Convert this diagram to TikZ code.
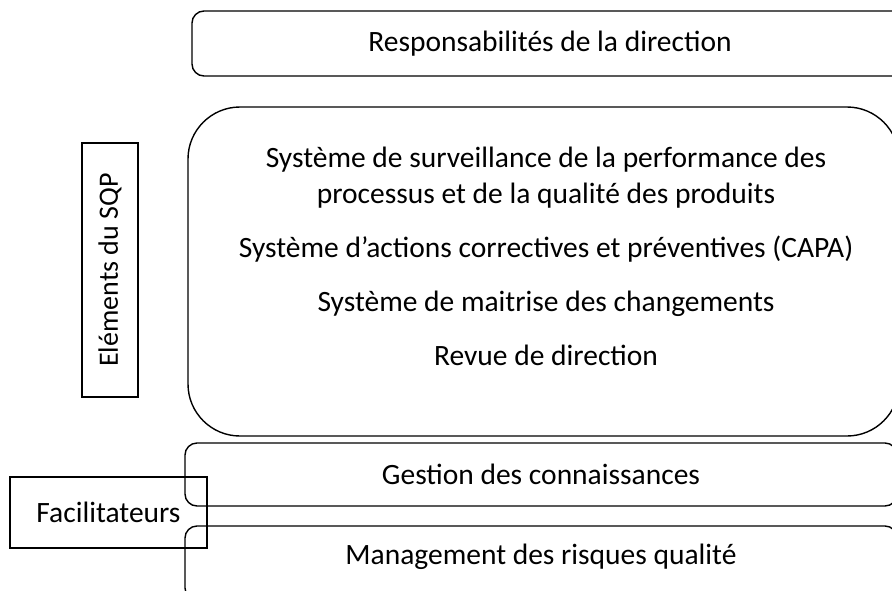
\documentclass[tikz,border=0pt]{standalone}
\usepackage{fontspec}
\setmainfont{Carlito}
\usetikzlibrary{shapes}

\begin{document}
\begin{tikzpicture}[x=1pt,y=-1pt,
        boite/.style={rectangle,draw,line width=1.4pt,rounded corners=12pt,inner sep=0pt},
        cadre/.style={rectangle,draw,line width=1.4pt,inner sep=0pt},
        font=\fontsize{29.5}{36}\selectfont]
        % taille de l'image
        \useasboundingbox (0,0) rectangle (892,590);
        \clip (0,0) rectangle (892,590);

        % responsabilités de la direction
        \node[boite,minimum width=716pt,minimum height=65pt] (resp) at (550,43.5) {Responsabilités de la direction};

        % éléments du SQP
        \node[boite,rounded corners=52pt,minimum width=711pt,minimum height=329pt] (sqp) at (543.5,271.5) {};
        \node[align=center] (sqptexte) at (546,256) {
            Système de surveillance de la performance des\\
            processus et de la qualité des produits\\[18pt]
            Système d’actions correctives et préventives (CAPA)\\[18pt]
            Système de maitrise des changements\\[18pt]
            Revue de direction
        };
        \node[cadre,rotate=90,minimum width=254pt,minimum height=56pt,font=\fontsize{28}{30}\selectfont] (elements) at (110,270) {Eléments du SQP};

        % facilitateurs
        \node[boite,minimum width=712pt,minimum height=63pt] (gestion) at (541,474.5) {Gestion des connaissances};
        \node[boite,minimum width=712pt,minimum height=74pt] (risques) at (541,563) {};
        \node (risquestexte) at (541,557) {Management des risques qualité};
        \node[cadre,minimum width=197pt,minimum height=71pt] (facil) at (108.5,512.5) {Facilitateurs};
    \end{tikzpicture}
\end{document}
